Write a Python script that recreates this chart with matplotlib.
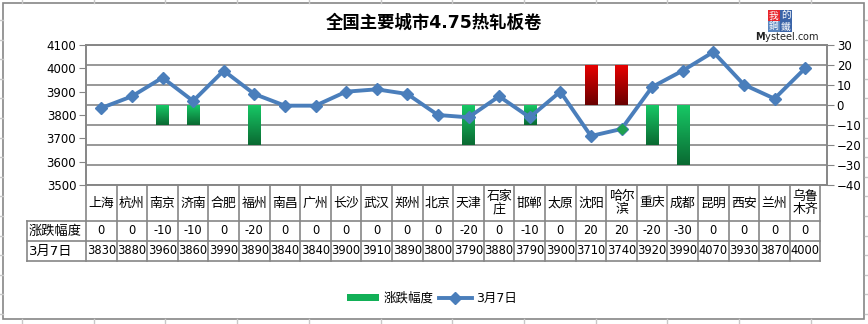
import numpy as np
import matplotlib
matplotlib.use("Agg")
import matplotlib.pyplot as plt
from matplotlib.colors import LinearSegmentedColormap
from matplotlib.patches import Rectangle, Patch
from matplotlib.lines import Line2D
from matplotlib.transforms import blended_transform_factory

plt.rcParams['font.family'] = ['DejaVu Sans', 'Noto Sans CJK SC']

# 数据
cities = ["上海", "杭州", "南京", "济南", "合肥", "福州", "南昌", "广州", "长沙", "武汉",
          "郑州", "北京", "天津", "石家\n庄", "邯郸", "太原", "沈阳", "哈尔\n滨", "重庆",
          "成都", "昆明", "西安", "兰州", "乌鲁\n木齐"]
change = [0, 0, -10, -10, 0, -20, 0, 0, 0, 0, 0, 0, -20, 0, -10, 0, 20, 20, -20, -30,
          0, 0, 0, 0]
price = [3830, 3880, 3960, 3860, 3990, 3890, 3840, 3840, 3900, 3910, 3890, 3800, 3790,
         3880, 3790, 3900, 3710, 3740, 3920, 3990, 4070, 3930, 3870, 4000]
left_ticks = [3500, 3600, 3700, 3800, 3900, 4000, 4100]
right_ticks = [-40, -30, -20, -10, 0, 10, 20, 30]
row_names = ["涨跌幅度", "3月7日"]
title = "全国主要城市4.75热轧板卷"

W, H = 868, 324
fig = plt.figure(figsize=(W / 100, H / 100), dpi=100)
fig.patch.set_facecolor("white")

def px(x0, y0, x1, y1):
    return [x0 / W, 1 - y1 / H, (x1 - x0) / W, (y1 - y0) / H]

grid_c = "#868686"
line_c = "#4a7ebb"

# 外框和表格线
fig.add_artist(Rectangle((3 / W, 1 - 319 / H), 861 / W, 316 / H, transform=fig.transFigure,
                         fill=False, ec=grid_c, lw=1.2))
for x in np.arange(22, W, 71.7):
    fig.add_artist(Line2D([x / W, x / W], [1, 1 - 3 / H], color="#c8c8c8", lw=1))
    fig.add_artist(Line2D([x / W, x / W], [0, 5 / H], color="#c8c8c8", lw=1))
for y in np.arange(20, H, 19.6):
    fig.add_artist(Line2D([0, 3 / W], [1 - y / H, 1 - y / H], color="#c8c8c8", lw=1))
    fig.add_artist(Line2D([1 - 3 / W, 1], [1 - y / H, 1 - y / H], color="#c8c8c8", lw=1))

ax = fig.add_axes(px(86, 45, 827, 185))
n = len(cities)
xs = np.arange(n)
col_w = 30.6

# 涨跌幅度 柱子（渐变色）
green = LinearSegmentedColormap.from_list("g", ["#0a6a32", "#17c765"])
red = LinearSegmentedColormap.from_list("r", ["#6a0000", "#e60000"])
grad = np.linspace(0, 1, 64).reshape(-1, 1)
bw = 0.4
for x, v in zip(xs, change):
    if v == 0:
        continue
    cm = red if v > 0 else green
    ax.imshow(grad, cmap=cm, origin="lower", aspect="auto", zorder=2,
              extent=[x - bw / 2, x + bw / 2, min(0, v), max(0, v)])
ax.set_xlim(-0.5, -0.5 + 741 / col_w)
ax.set_ylim(-40, 30)
ax.set_yticks(right_ticks)
ax.grid(axis="y", color=grid_c, lw=1.2)
ax.set_axisbelow(True)
ax.set_xticks([])

# 3月7日 价格折线
ax2 = ax.twinx()
ax2.plot(xs, price, color=line_c, lw=2.8, marker="D", ms=6.5, zorder=3)
ax2.plot(xs[17], price[17], ls="none", marker="D", ms=5, color="#1fa050", zorder=4)
ax2.set_ylim(3500, 4100)
ax2.set_yticks(left_ticks)

# 左轴放价格，右轴放涨跌
ax.yaxis.tick_right()
ax.yaxis.set_label_position("right")
ax2.yaxis.tick_left()
ax2.yaxis.set_label_position("left")
for a in (ax, ax2):
    a.tick_params(axis="y", length=5, color=grid_c, labelsize=8.5, pad=2)
    for s in a.spines.values():
        s.set_color(grid_c)
        s.set_linewidth(1.2)

# 数据表
tr = blended_transform_factory(ax.transData, ax.transAxes)
rows_y = [0, -36 / 140, -56 / 140, -76 / 140]
x_left = -0.5 - 59 / col_w
x_right = n - 0.5
kw = dict(transform=tr, color=grid_c, lw=1.2, clip_on=False)
for y in rows_y[1:]:
    ax.add_line(Line2D([x_left, x_right], [y, y], **kw))
for i in range(n + 1):
    ax.add_line(Line2D([i - 0.5, i - 0.5], [0, rows_y[-1]], **kw))
ax.add_line(Line2D([x_left, x_left], [rows_y[1], rows_y[-1]], **kw))

for i, c in enumerate(cities):
    ax.text(i, (rows_y[0] + rows_y[1]) / 2, c, transform=tr, ha="center", va="center",
            fontsize=9.3, linespacing=1.0)
    ax.text(i, (rows_y[1] + rows_y[2]) / 2, str(change[i]), transform=tr, ha="center",
            va="center", fontsize=8.3)
    ax.text(i, (rows_y[2] + rows_y[3]) / 2, str(price[i]), transform=tr, ha="center",
            va="center", fontsize=8.3)
for j, name in enumerate(row_names):
    ax.text(x_left + 0.05, (rows_y[j + 1] + rows_y[j + 2]) / 2, name, transform=tr,
            ha="left", va="center", fontsize=9.5)

# 标题
fig.text(434 / W, 1 - 23 / H, title, ha="center", va="center", fontsize=12.5,
         fontweight="bold")

# 图例
handles = [Patch(facecolor="#12b057", edgecolor="none"),
           Line2D([], [], color=line_c, lw=2.8, marker="D", ms=6)]
fig.legend(handles, row_names, loc="center", bbox_to_anchor=(432 / W, 1 - 298 / H),
           ncol=2, frameon=False, fontsize=9, handlelength=2.6, handleheight=0.5,
           columnspacing=0.4, handletextpad=0.4)

# Mysteel 标志
logo = [("我", "#e8262d", 768, 10), ("的", "#3a64a8", 780, 10),
        ("鋼", "#5a86c0", 768, 21), ("鐵", "#3a64a8", 780, 21)]
for ch, fc, x0, y0 in logo:
    fig.add_artist(Rectangle((x0 / W, 1 - (y0 + 11) / H), 12 / W, 11 / H,
                             transform=fig.transFigure, fc=fc, ec="none"))
    fig.text((x0 + 6) / W, 1 - (y0 + 5.5) / H, ch, ha="center", va="center",
             fontsize=7, color="white", family=["Noto Sans CJK TC"])
fig.text(787 / W, 1 - 37 / H, r"$\mathbf{M}$ysteel.com", ha="center", va="center",
         fontsize=7, color="#222222")

fig.savefig("out.png", dpi=100)
